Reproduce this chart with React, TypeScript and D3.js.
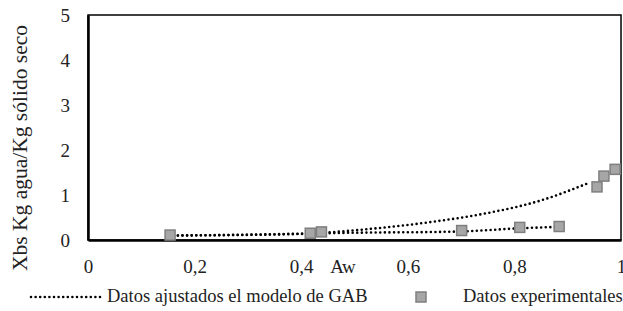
import { useEffect, useRef } from "react";
import * as d3 from "d3";

// experimental points (Aw, Xbs)
const expAw = [0.154, 0.417, 0.438, 0.701, 0.81, 0.884, 0.955, 0.968, 0.989];
const expX = [0.11, 0.15, 0.18, 0.21, 0.28, 0.3, 1.18, 1.42, 1.57];

// GAB fitted curves (two branches drawn with the same style)
const fitLowAw = [0.16, 0.42, 0.45, 0.7, 0.81, 0.88];
const fitLowX = [0.1, 0.14, 0.15, 0.19, 0.26, 0.29];
const fitHighAw = [0.16, 0.42, 0.45, 0.55, 0.65, 0.75, 0.85, 0.94];
const fitHighX = [0.1, 0.15, 0.17, 0.27, 0.41, 0.6, 0.88, 1.27];

const xTicks = [0, 0.2, 0.4, 0.6, 0.8, 1];
const yTicks = [0, 1, 2, 3, 4, 5];

const FONT = "Liberation Serif, Times New Roman, Times, serif";

export default function App() {
  const ref = useRef<SVGSVGElement>(null);

  useEffect(() => {
    if (!ref.current) return;
    const w = 623;
    const h = 311;
    const m = { top: 15, right: 2, bottom: 71, left: 88 };

    const svg = d3.select(ref.current);
    svg.selectAll("*").remove();
    svg.attr("width", w).attr("height", h).attr("viewBox", `0 0 ${w} ${h}`).style("font-family", FONT);
    svg.append("rect").attr("width", w).attr("height", h).attr("fill", "#fff");

    const x = d3.scaleLinear().domain([0, 1]).range([m.left, w - m.right]);
    const y = d3.scaleLinear().domain([0, 5]).range([h - m.bottom, m.top]);

    // plot border
    svg
      .append("rect")
      .attr("x", x(0))
      .attr("y", y(5))
      .attr("width", x(1) - x(0))
      .attr("height", y(0) - y(5))
      .attr("fill", "none")
      .attr("stroke", "#000")
      .attr("stroke-width", 1.5);

    const yAxis = svg
      .append("g")
      .attr("transform", `translate(${x(0)},0)`)
      .call(d3.axisLeft(y).tickValues(yTicks).tickSize(0).tickPadding(18).tickFormat(d3.format("d")));
    yAxis.attr("font-family", null).attr("font-size", null);
    yAxis.select(".domain").attr("stroke", "#000").attr("stroke-width", 2.5);
    yAxis.selectAll("text").style("font-size", "19px").attr("fill", "#222");

    const xAxis = svg
      .append("g")
      .attr("transform", `translate(0,${y(0)})`)
      .call(
        d3
          .axisBottom(x)
          .tickValues(xTicks)
          .tickSize(0)
          .tickPadding(19.5)
          .tickFormat((d) => (d === 0 || d === 1 ? String(d) : String(d).replace(".", ",")))
      );
    xAxis.attr("font-family", null).attr("font-size", null);
    xAxis.select(".domain").attr("stroke", "#000").attr("stroke-width", 2.5);
    xAxis.selectAll("text").style("font-size", "19px").attr("fill", "#222");

    // axis titles
    svg
      .append("text")
      .attr("x", 343)
      .attr("y", 273)
      .attr("text-anchor", "middle")
      .style("font-size", "19px")
      .attr("fill", "#222")
      .text("Aw");
    svg
      .append("text")
      .attr("transform", `translate(27,148) rotate(-90)`)
      .attr("text-anchor", "middle")
      .style("font-size", "21.5px")
      .attr("fill", "#222")
      .text("Xbs Kg agua/Kg sólido seco");

    const line = d3
      .line<[number, number]>()
      .x((d) => x(d[0]))
      .y((d) => y(d[1]))
      .curve(d3.curveMonotoneX);

    const fits = [d3.zip(fitLowAw, fitLowX), d3.zip(fitHighAw, fitHighX)] as [number, number][][];
    fits.forEach((pts) => {
      svg
        .append("path")
        .attr("d", line(pts))
        .attr("fill", "none")
        .attr("stroke", "#000")
        .attr("stroke-width", 2.6)
        .attr("stroke-linecap", "round")
        .attr("stroke-dasharray", "0 4.6");
    });

    const sq = 10;
    svg
      .selectAll(".pt")
      .data(d3.zip(expAw, expX))
      .join("rect")
      .attr("x", (d) => x(d[0]) - sq / 2)
      .attr("y", (d) => y(d[1]) - sq / 2)
      .attr("width", sq)
      .attr("height", sq)
      .attr("fill", "#a6a6a6")
      .attr("stroke", "#7f7f7f")
      .attr("stroke-width", 1.5);

    // legend
    const ly = 297;
    svg
      .append("line")
      .attr("x1", 31)
      .attr("x2", 100)
      .attr("y1", ly)
      .attr("y2", ly)
      .attr("stroke", "#000")
      .attr("stroke-width", 2.6)
      .attr("stroke-linecap", "round")
      .attr("stroke-dasharray", "0 4.6");
    svg
      .append("text")
      .attr("x", 107)
      .attr("y", 302)
      .style("font-size", "18.5px")
      .attr("fill", "#222")
      .text("Datos ajustados el modelo de GAB");
    svg
      .append("rect")
      .attr("x", 421 - sq / 2)
      .attr("y", ly - sq / 2)
      .attr("width", sq)
      .attr("height", sq)
      .attr("fill", "#a6a6a6")
      .attr("stroke", "#7f7f7f")
      .attr("stroke-width", 1.5);
    svg
      .append("text")
      .attr("x", 463)
      .attr("y", 302)
      .style("font-size", "18.5px")
      .attr("fill", "#222")
      .text("Datos experimentales");
  }, []);

  return <svg ref={ref} style={{ position: "absolute", left: 0, top: 0, display: "block" }} />;
}
